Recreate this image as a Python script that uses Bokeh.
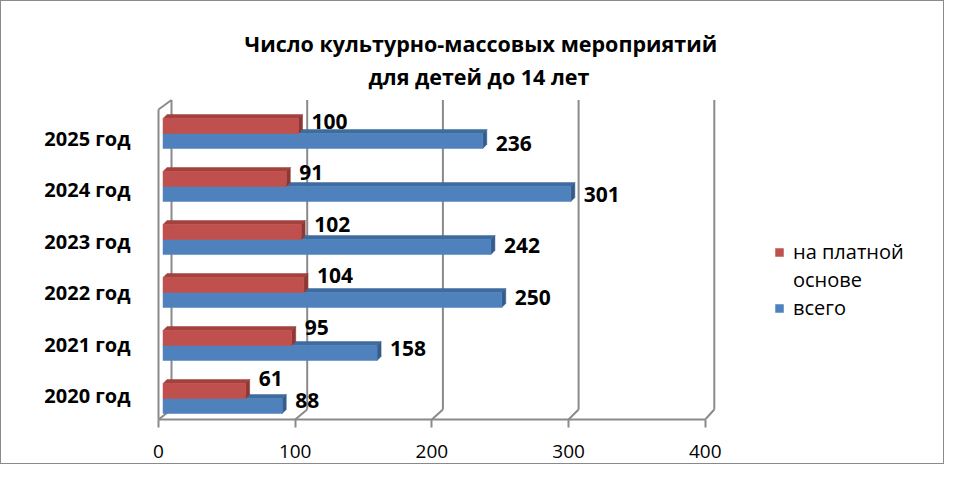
from bokeh.plotting import figure
from bokeh.models import Range1d, LinearAxis, FixedTicker, Title, Legend, LegendItem, ColumnDataSource
from bokeh.core.properties import value
from bokeh.embed import file_html
from bokeh.resources import INLINE

# ---------------- data ----------------
years = ["2020 год", "2021 год", "2022 год", "2023 год", "2024 год", "2025 год"]
paid = [61, 95, 104, 102, 91, 100]        # на платной основе
total = [88, 158, 250, 242, 301, 236]     # всего
x_ticks = [0, 100, 200, 300, 400]
series_names = ["на платной основе", "всего"]
title_lines = ["Число культурно-массовых мероприятий", "для детей до 14 лет"]

# ---------------- layout (picture pixels) ----------------
PAGE = 0
W, H = 944, 464
FL, FR = 140, 930
FT, FB = 89, 418
BAR0, BARK = 161.5, 1.355
FRONT0, FRONTK = 157.0, 1.367
BACK0, BACKK = 170.0, 1.357
YL0, YK = 399.0, 53.0          # bar plane: category spacing
CL0, CK = 394.0, 51.4          # label plane: category spacing
BACK_TOP, BACK_BOT = 98.5, 408.0
FRONT_TOP = 108.0

RED, RED_TOP, RED_SIDE = "#C0504D", "#A4413E", "#8E3735"
BLUE, BLUE_TOP, BLUE_SIDE = "#4F81BD", "#3F6C9F", "#355C8A"
GRID = "#8A8A8A"
FONT = "Open Sans"


def sx2x(sx):
    return (sx - BAR0) / BARK


def sy2y(sy):
    return (YL0 - sy) / YK


p = figure(width=W, height=H, output_backend="svg", toolbar_location=None,
           x_range=Range1d(sx2x(FL), sx2x(FR)), y_range=Range1d(sy2y(FB), sy2y(FT)),
           x_axis_location=None, y_axis_location=None,
           min_border_left=FL - PAGE, min_border_right=W - (FR - PAGE),
           min_border_top=FT - PAGE, min_border_bottom=H - (FB - PAGE))
p.styles = {"border": "1px solid #8A8A8A"}
p.outline_line_color = None
p.grid.visible = False
p.extra_x_ranges = {"front": Range1d((FL - FRONT0) / FRONTK, (FR - FRONT0) / FRONTK)}
p.extra_y_ranges = {"cat": Range1d((CL0 - FB) / CK, (CL0 - FT) / CK)}

# ---------------- walls / gridlines ----------------
back_x = [sx2x(BACK0 + BACKK * v) for v in x_ticks]
front_x = [sx2x(FRONT0 + FRONTK * v) for v in x_ticks]
n = len(x_ticks)
p.segment(x0=back_x, y0=[sy2y(BACK_TOP)] * n, x1=back_x, y1=[sy2y(BACK_BOT)] * n,
          line_color=GRID, line_width=2)
p.segment(x0=back_x, y0=[sy2y(BACK_BOT)] * n, x1=front_x, y1=[sy2y(FB)] * n,
          line_color=GRID, line_width=2)
p.segment(x0=[front_x[0], front_x[0]], y0=[sy2y(FRONT_TOP), sy2y(FRONT_TOP)],
          x1=[front_x[0], back_x[0]], y1=[sy2y(FB), sy2y(BACK_TOP)],
          line_color=GRID, line_width=2)

# ---------------- bars ----------------
half = 15.0 / YK
off = 2.0 / YK
ddx = 4.0 / BARK
ddy = 4.0 / YK


def bar3d(vals, bottoms, tops, front, topc, side):
    tx, ty, sxs, sys_ = [], [], [], []
    for v, b, t in zip(vals, bottoms, tops):
        tx.append([0, ddx, v + ddx, v])
        ty.append([t, t + ddy, t + ddy, t])
        sxs.append([v, v + ddx, v + ddx, v])
        sys_.append([b, b + ddy, t + ddy, t])
    p.patches(tx, ty, fill_color=topc, line_color=topc, line_width=0.5)
    p.patches(sxs, sys_, fill_color=side, line_color=side, line_width=0.5)
    src = ColumnDataSource(dict(left=[0] * len(vals), right=vals, bottom=bottoms, top=tops))
    return p.quad(left="left", right="right", bottom="bottom", top="top", source=src,
                  fill_color=front, line_color=front, line_width=0.5)


idx = list(range(len(years)))
blue_b = [i + off - half for i in idx]
blue_t = [i + off for i in idx]
red_b = [i + off for i in idx]
red_t = [i + off + half for i in idx]
r_blue = bar3d(total, blue_b, blue_t, BLUE, BLUE_TOP, BLUE_SIDE)
r_red = bar3d(paid, red_b, red_t, RED, RED_TOP, RED_SIDE)
r_none = p.quad(left=[], right=[], bottom=[], top=[], fill_color=None, line_color=None)

# value labels (label plane)
lab_font = dict(text_font=value(FONT), text_font_style="bold", text_font_size="21px",
                text_color="black", text_baseline="middle", text_align="left", y_range_name="cat")
p.text(x=paid, y=idx, text=[str(v) for v in paid], x_offset=13, y_offset=-17, **lab_font)
p.text(x=total, y=idx, text=[str(v) for v in total], x_offset=13, y_offset=4.5, **lab_font)

# ---------------- axes ----------------
ya = LinearAxis(y_range_name="cat", ticker=FixedTicker(ticks=idx))
ya.major_label_overrides = {i: y for i, y in zip(idx, years)}
ya.axis_line_color = None
ya.major_tick_line_color = None
ya.minor_tick_line_color = None
ya.major_label_standoff = 5
ya.major_label_text_font = FONT
ya.major_label_text_font_style = "bold"
ya.major_label_text_font_size = "20px"
ya.major_label_text_color = "black"
p.add_layout(ya, "left")

xa = LinearAxis(x_range_name="front", ticker=FixedTicker(ticks=x_ticks), bounds=(x_ticks[0], x_ticks[-1]))
xa.axis_line_color = GRID
xa.axis_line_width = 2
xa.major_tick_line_color = GRID
xa.major_tick_line_width = 2
xa.major_tick_in = 0
xa.major_tick_out = 8
xa.minor_tick_line_color = None
xa.major_label_standoff = 17
xa.major_label_text_font = FONT
xa.major_label_text_font_size = "19px"
xa.major_label_text_color = "black"
p.add_layout(xa, "below")

# ---------------- titles ----------------
p.title = Title(text=title_lines[0], align="left", offset=103, text_font=FONT, text_font_style="bold",
                text_font_size="21.5px", text_color="black", standoff=3)
p.add_layout(Title(text=title_lines[1], align="left", offset=227, text_font=FONT, text_font_style="bold",
                   text_font_size="21.5px", text_color="black", standoff=0), "above")

# ---------------- legend ----------------
paid_l1, paid_l2 = series_names[0].rsplit(" ", 1)
legend = Legend(items=[LegendItem(label=paid_l1, renderers=[r_red]),
                       LegendItem(label=paid_l2, renderers=[r_none]),
                       LegendItem(label=series_names[1], renderers=[r_blue])],
                location=(633, 98), glyph_width=10, glyph_height=10, label_standoff=9,
                label_text_font=FONT, label_text_font_size="20px", label_text_color="black",
                border_line_color=None, background_fill_alpha=0, padding=0, margin=0, spacing=1)
p.add_layout(legend)

open("out.html", "w").write(file_html(p, INLINE))
